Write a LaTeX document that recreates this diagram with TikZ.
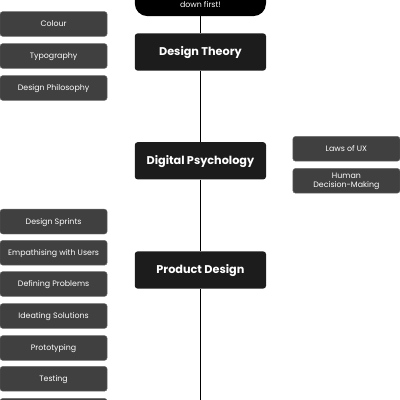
\documentclass[tikz,border=0pt]{standalone}
\usepackage{fontspec}
\setmainfont{Poppins}
\definecolor{topicfill}{HTML}{1C1C1C}
\definecolor{itemfill}{HTML}{404040}
\definecolor{itemdraw}{HTML}{6E6E6E}
\begin{document}
\begin{tikzpicture}[
 topic/.style={fill=topicfill,rounded corners=2pt,text=white,align=center,font=\fontsize{8}{9}\selectfont\bfseries,minimum width=3.28cm,minimum height=9.3mm,text depth=1pt},
 item/.style={fill=itemfill,draw=itemdraw,line width=0.3pt,rounded corners=2pt,text=white,align=center,font=\fontsize{5.6}{6.6}\selectfont,minimum width=2.68cm,minimum height=6.2mm,inner sep=1pt,text depth=0.8pt},
 spine/.style={line width=0.8pt}]
\useasboundingbox (0,0) rectangle (10,-10);
\clip (0,0) rectangle (10,-10);
% timeline
\node[fill=black,rounded corners=9pt,minimum width=3.28cm,minimum height=1.4cm,anchor=south] (start) at (5.01,-0.41) {};
\node[text=white,font=\fontsize{5.6}{6.6}\selectfont] (startlab) at (5.01,-0.12) {down first!};
\node[topic] (theory) at (5.01,-1.3) {Design Theory};
\node[topic] (psych) at (5.01,-4.02) {Digital Psychology};
\node[topic] (product) at (5.01,-6.75) {Product Design};
\coordinate (end) at (5.01,-10.2);
\draw[spine] (start) -- (theory);
\draw[spine] (theory) -- (psych);
\draw[spine] (psych) -- (product);
\draw[spine] (product) -- (end);
% design theory
\node[item] (colour) at (1.34,-0.6) {Colour};
\node[item] (typo) at (1.34,-1.4) {Typography};
\node[item] (philo) at (1.34,-2.2) {Design Philosophy};
% digital psychology
\node[item] (laws) at (8.66,-3.72) {Laws of UX};
\node[item] (human) at (8.66,-4.52) {Human\\Decision-Making};
% product design
\node[item] (sprints) at (1.34,-5.54) {Design Sprints};
\node[item] (empath) at (1.34,-6.32) {Empathising with Users};
\node[item] (define) at (1.34,-7.1) {Defining Problems};
\node[item] (ideate) at (1.34,-7.9) {Ideating Solutions};
\node[item] (proto) at (1.34,-8.7) {Prototyping};
\node[item] (testing) at (1.34,-9.47) {Testing};
\node[item] (next) at (1.34,-10.27) {};
\end{tikzpicture}
\end{document}
